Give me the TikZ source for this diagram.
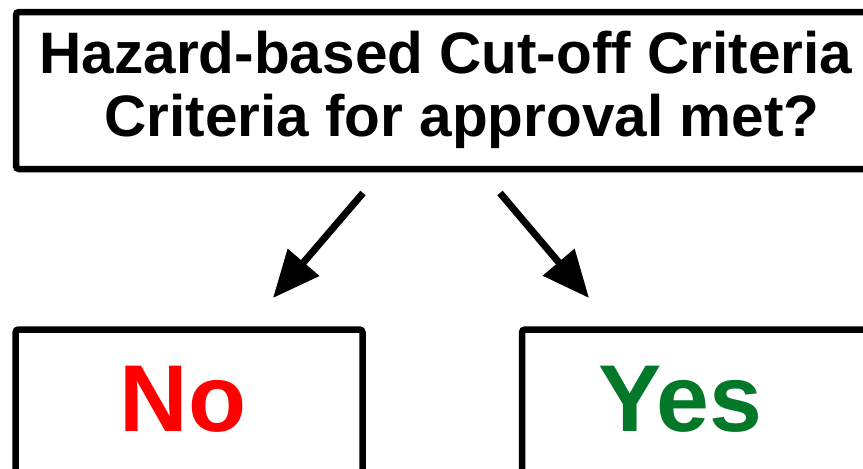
\documentclass[tikz,border=0pt]{standalone}
\usepackage{fontspec}
\setmainfont{Liberation Sans}
\usetikzlibrary{arrows.meta}
\definecolor{yesgreen}{RGB}{3,120,40}

\begin{document}
\begin{tikzpicture}[x=1pt,y=-1pt,->,>={Triangle[length=47pt,width=40pt]},line width=7pt,
  box/.style={-,draw,rounded corners=3pt,line width=6.5pt,inner sep=0pt},
  answer/.style={font=\fontsize{95}{95}\selectfont\bfseries,anchor=base}]
\useasboundingbox (0,0) rectangle (863,469);
\clip (0,0) rectangle (863,469);
\node[box,minimum width=860pt,minimum height=157pt,align=center,
  font=\fontsize{58.5}{63}\selectfont\bfseries] (q) at (446,90.5)
  {Hazard-based Cut-off Criteria\\\hspace*{32pt}Criteria for approval met?\rule[-14pt]{0pt}{14pt}};
\node[box,minimum width=347pt,minimum height=270pt] (no) at (189,464.5) {};
\node[box,minimum width=347pt,minimum height=270pt] (yes) at (695.5,464.5) {};
\node[answer,red] (notext) at (183,431) {No};
\node[answer,yesgreen] (yestext) at (680,431) {Yes};
%arrow ends
\coordinate (qa) at (363,193);
\coordinate (qb) at (500,193);
\coordinate (na) at (273,298);
\coordinate (ya) at (589,298);
\draw (qa) -- (na);
\draw (qb) -- (ya);
\end{tikzpicture}
\end{document}
